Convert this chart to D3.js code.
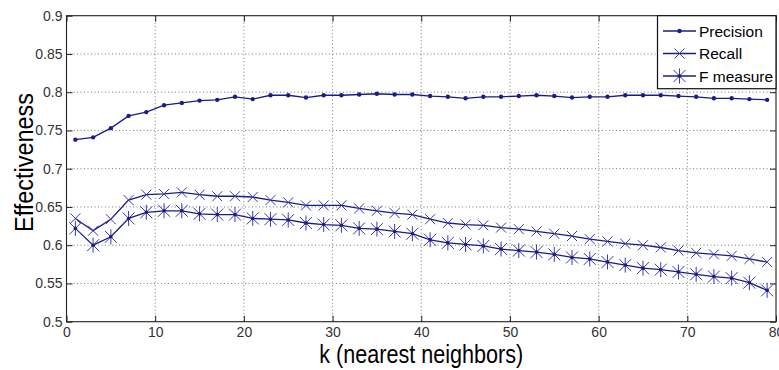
<!DOCTYPE html>
<html>
<head>
<meta charset="utf-8">
<script src="https://cdn.jsdelivr.net/npm/d3@7"></script>
<style>
  body { margin: 0; background: #fff; }
  svg { display: block; }
</style>
</head>
<body>
<div class="vis-linechart"></div>
<script>
const kValues = [1, 3, 5, 7, 9, 11, 13, 15, 17, 19, 21, 23, 25, 27, 29, 31, 33, 35, 37, 39,
                 41, 43, 45, 47, 49, 51, 53, 55, 57, 59, 61, 63, 65, 67, 69, 71, 73, 75, 77, 79];
const precision = [0.738, 0.741, 0.753, 0.769, 0.774, 0.783, 0.786, 0.789, 0.790, 0.794,
                   0.791, 0.796, 0.796, 0.793, 0.796, 0.796, 0.797, 0.798, 0.797, 0.797,
                   0.795, 0.794, 0.792, 0.794, 0.794, 0.795, 0.796, 0.795, 0.793, 0.794,
                   0.794, 0.796, 0.796, 0.796, 0.795, 0.794, 0.792, 0.792, 0.791, 0.790];
const recall = [0.635, 0.619, 0.634, 0.659, 0.666, 0.667, 0.669, 0.666, 0.664, 0.664,
                0.663, 0.659, 0.656, 0.652, 0.652, 0.652, 0.648, 0.645, 0.642, 0.640,
                0.634, 0.629, 0.627, 0.626, 0.623, 0.621, 0.618, 0.615, 0.612, 0.608,
                0.605, 0.602, 0.600, 0.597, 0.593, 0.590, 0.588, 0.586, 0.582, 0.578];
const fMeasure = [0.622, 0.600, 0.611, 0.635, 0.643, 0.645, 0.645, 0.641, 0.640, 0.640,
                  0.635, 0.634, 0.633, 0.629, 0.627, 0.626, 0.622, 0.621, 0.618, 0.615,
                  0.607, 0.603, 0.601, 0.599, 0.595, 0.593, 0.591, 0.588, 0.584, 0.582,
                  0.578, 0.574, 0.570, 0.568, 0.565, 0.562, 0.559, 0.557, 0.551, 0.541];
const seriesNames = ["Precision", "Recall", "F measure"];
const xTicks = [0, 10, 20, 30, 40, 50, 60, 70, 80];
const yTicks = [0.5, 0.55, 0.6, 0.65, 0.7, 0.75, 0.8, 0.85, 0.9];
const yTickLabels = ["0.5", "0.55", "0.6", "0.65", "0.7", "0.75", "0.8", "0.85", "0.9"];

const W = 779, H = 370;
const margin = { top: 15.7, right: 3, bottom: 48.3, left: 66.5 };
const lineColor = "#1c1c86";
const markColor = "#3a3aa8";
const tickFont = "'Liberation Sans Narrow', 'Liberation Sans', Arial, sans-serif";

const svg = d3.select(".vis-linechart")
    .append("svg")
    .attr("width", W)
    .attr("height", H);

const x = d3.scaleLinear().domain([0, 80]).range([margin.left, W - margin.right]);
const y = d3.scaleLinear().domain([0.5, 0.9]).range([H - margin.bottom, margin.top]);

// grid
const grid = svg.append("g").attr("stroke", "#555").attr("stroke-width", 0.8)
    .attr("stroke-dasharray", "1,2.5");
grid.selectAll(".gx").data(xTicks.slice(1, -1)).enter().append("line")
    .attr("x1", d => x(d)).attr("x2", d => x(d))
    .attr("y1", y(0.9)).attr("y2", y(0.5));
grid.selectAll(".gy").data(yTicks.slice(1, -1)).enter().append("line")
    .attr("y1", d => y(d)).attr("y2", d => y(d))
    .attr("x1", x(0)).attr("x2", x(80));

// axes, MATLAB style inward ticks
const xAxis = d3.axisBottom(x).tickValues(xTicks).tickSizeInner(-6).tickSizeOuter(0).tickPadding(5);
const yAxis = d3.axisLeft(y).tickValues(yTicks).tickSizeInner(-6).tickSizeOuter(0).tickPadding(4)
    .tickFormat((d, i) => yTickLabels[i]);

const gx = svg.append("g").attr("transform", "translate(0," + y(0.5) + ")").call(xAxis);
const gy = svg.append("g").attr("transform", "translate(" + x(0) + ",0)").call(yAxis);
[gx, gy].forEach(g => {
    g.selectAll("path").remove();
    g.selectAll("line").attr("stroke", "#222");
    g.selectAll("text").attr("fill", "#333").style("font-family", tickFont).style("font-size", "14px");
});
svg.append("g").attr("transform", "translate(0," + y(0.9) + ")")
    .call(d3.axisTop(x).tickValues(xTicks).tickSizeInner(-6).tickSizeOuter(0).tickFormat(""))
    .call(g => { g.select("path").remove(); g.selectAll("line").attr("stroke", "#222"); });
svg.append("g").attr("transform", "translate(" + x(80) + ",0)")
    .call(d3.axisRight(y).tickValues(yTicks).tickSizeInner(-6).tickSizeOuter(0).tickFormat(""))
    .call(g => { g.select("path").remove(); g.selectAll("line").attr("stroke", "#222"); });

// frame
svg.append("rect")
    .attr("x", x(0)).attr("y", y(0.9))
    .attr("width", x(80) - x(0)).attr("height", y(0.5) - y(0.9))
    .attr("fill", "none").attr("stroke", "#222").attr("stroke-width", 1.1);

// series
const series = [
    { name: seriesNames[0], values: precision, marker: "dot" },
    { name: seriesNames[1], values: recall, marker: "x" },
    { name: seriesNames[2], values: fMeasure, marker: "star" }
];

const line = d3.line().x((d, i) => x(kValues[i])).y(d => y(d));

function drawMarker(g, type, cx, cy) {
    if (type === "dot") {
        g.append("circle").attr("cx", cx).attr("cy", cy).attr("r", 2.2).attr("fill", lineColor);
    } else {
        const s = type === "x" ? 5 : 6;
        const p = g.append("path")
            .attr("fill", "none").attr("stroke", markColor).attr("stroke-width", 1);
        let dStr = "M" + (cx - s) + "," + (cy - s) + "L" + (cx + s) + "," + (cy + s) +
                   "M" + (cx - s) + "," + (cy + s) + "L" + (cx + s) + "," + (cy - s);
        if (type === "star") {
            dStr += "M" + cx + "," + (cy - s * 1.25) + "L" + cx + "," + (cy + s * 1.25);
        }
        p.attr("d", dStr);
        if (type === "star") {
            g.append("circle").attr("cx", cx).attr("cy", cy).attr("r", 1.8).attr("fill", lineColor);
        }
    }
}

series.forEach(s => {
    svg.append("path")
        .datum(s.values)
        .attr("d", line)
        .attr("fill", "none")
        .attr("stroke", lineColor)
        .attr("stroke-width", 1.3);
    const mg = svg.append("g");
    s.values.forEach((v, i) => drawMarker(mg, s.marker, x(kValues[i]), y(v)));
});

// legend
const lg = svg.append("g");
lg.append("rect")
    .attr("x", 657.5).attr("y", y(0.9))
    .attr("width", x(80) - 657.5).attr("height", 73)
    .attr("fill", "#fff").attr("stroke", "#111").attr("stroke-width", 1.2);
series.forEach((s, i) => {
    const cy = 31 + i * 22.5;
    lg.append("line").attr("x1", 663).attr("x2", 696).attr("y1", cy).attr("y2", cy)
        .attr("stroke", lineColor).attr("stroke-width", 1.3);
    drawMarker(lg, s.marker, 679.5, cy);
    lg.append("text").attr("x", 699).attr("y", cy + 5.5)
        .text(s.name)
        .style("font-family", "'Liberation Sans', Arial, sans-serif")
        .style("font-size", "15.5px")
        .attr("fill", "#000");
});

// axis labels
svg.append("text")
    .attr("x", (x(0) + x(80)) / 2).attr("y", 363)
    .attr("text-anchor", "middle")
    .attr("textLength", 204).attr("lengthAdjust", "spacingAndGlyphs")
    .style("font-family", tickFont).style("font-size", "25px")
    .text("k (nearest neighbors)");
svg.append("text")
    .attr("transform", "translate(33,162.5) rotate(-90)")
    .attr("text-anchor", "middle")
    .attr("textLength", 139).attr("lengthAdjust", "spacingAndGlyphs")
    .style("font-family", tickFont).style("font-size", "25px")
    .text("Effectiveness");
</script>
</body>
</html>
